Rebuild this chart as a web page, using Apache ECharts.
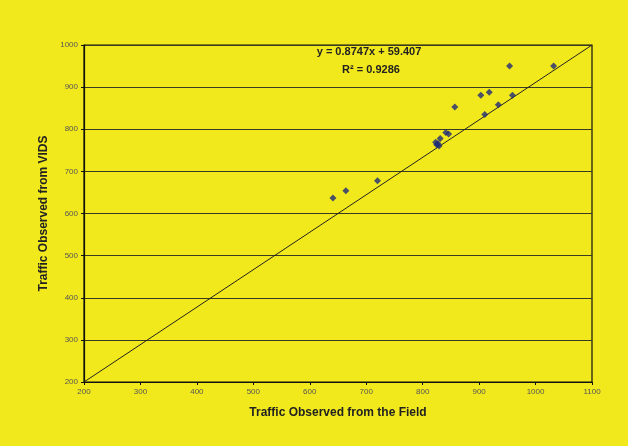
<!DOCTYPE html>
<html>
<head>
<meta charset="utf-8">
<script src="https://cdn.jsdelivr.net/npm/echarts@6/dist/echarts.min.js"></script>
<style>
  html, body { margin: 0; padding: 0; background: #F2E91C; }
  #chart { width: 628px; height: 446px; }
</style>
</head>
<body>
<div id="chart"></div>
<script>
// Field counts vs. VIDS counts
const fieldCounts = [641, 664, 720, 823, 825, 829, 831, 827, 841, 846, 857, 903, 918, 910, 934, 959, 954, 1032];
const vidsCounts  = [637, 654, 678, 769, 763, 760, 778, 766, 792, 789, 853, 881, 888, 835, 858, 881, 950, 950];

// Reference diagonal drawn corner to corner of the plot
const diagonalX = [200, 1100];
const diagonalY = [200, 1000];

const xTicks = { min: 200, max: 1100, step: 100 };
const yTicks = { min: 200, max: 1000, step: 100 };

const trendText = 'y = 0.8747x + 59.407';
const r2Text = 'R\u00B2 = 0.9286';

const points = fieldCounts.map((x, i) => [x, vidsCounts[i]]);
const diagonal = diagonalX.map((x, i) => [x, diagonalY[i]]);

const chart = echarts.init(document.getElementById('chart'), null, { renderer: 'canvas' });
const labelFont = 'Liberation Sans, Arial, sans-serif';
const plainNumber = v => String(v);

chart.setOption({
  backgroundColor: '#F2E91C',
  animation: false,
  grid: { left: 84, right: 36, top: 45, bottom: 64, containLabel: false },
  xAxis: {
    type: 'value',
    min: xTicks.min, max: xTicks.max, interval: xTicks.step,
    name: 'Traffic Observed from the Field',
    nameLocation: 'middle',
    nameGap: 25,
    nameTextStyle: { fontFamily: labelFont, fontWeight: 'bold', fontSize: 12, color: '#222' },
    axisLine: { show: true, onZero: false, lineStyle: { color: '#111', width: 1.2 } },
    axisTick: { show: true, length: 3, lineStyle: { color: '#111' } },
    axisLabel: { fontFamily: labelFont, fontSize: 8, color: '#555', margin: 6, formatter: plainNumber },
    splitLine: { show: false }
  },
  yAxis: {
    type: 'value',
    min: yTicks.min, max: yTicks.max, interval: yTicks.step,
    name: 'Traffic Observed from VIDS',
    nameLocation: 'middle',
    nameGap: 33,
    nameTextStyle: { fontFamily: labelFont, fontWeight: 'bold', fontSize: 12, color: '#222' },
    axisLine: { show: true, onZero: false, lineStyle: { color: '#111', width: 1.2 } },
    axisTick: { show: true, length: 3, lineStyle: { color: '#111' } },
    axisLabel: { fontFamily: labelFont, fontSize: 8, color: '#555', margin: 6, formatter: plainNumber },
    splitLine: { show: true, lineStyle: { color: '#3a3a22', width: 1.2 } }
  },
  graphic: [
    // right and top frame of the plot area
    { type: 'rect', shape: { x: 84, y: 45, width: 508, height: 337 }, style: { fill: 'none', stroke: '#111', lineWidth: 1.2 }, silent: true, z: 0 },
    // trend equation and R² above the cloud of points
    { type: 'text', x: 369, y: 46, style: { text: trendText, align: 'center', fontFamily: labelFont, fontSize: 11, fontWeight: 'bold', fill: '#222' } },
    { type: 'text', x: 371, y: 64, style: { text: r2Text, align: 'center', fontFamily: labelFont, fontSize: 11, fontWeight: 'bold', fill: '#222' } }
  ],
  series: [
    {
      type: 'line',
      data: diagonal,
      symbol: 'none',
      lineStyle: { color: '#222', width: 1 },
      silent: true,
      z: 2
    },
    {
      type: 'scatter',
      data: points,
      symbol: 'diamond',
      symbolSize: 7,
      itemStyle: { color: '#1F2A78' },
      z: 3
    }
  ]
});
</script>
</body>
</html>
